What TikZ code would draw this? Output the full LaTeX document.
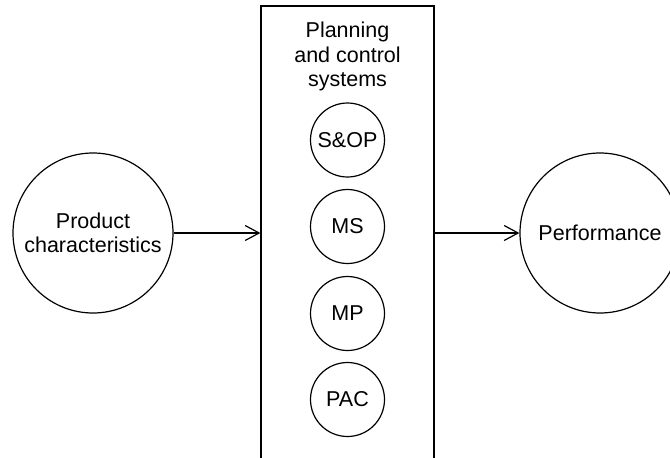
\documentclass[tikz,border=0pt]{standalone}
\usepackage{fontspec}
\setmainfont{Liberation Sans}
\usetikzlibrary{arrows.meta}
\begin{document}
\begin{tikzpicture}[x=1pt,y=-1pt,
  lbl/.style={font=\fontsize{21.5}{24.5}\selectfont, align=center},
  bigcirc/.style={circle, draw, line width=1.2pt, minimum size=160pt, inner sep=0pt, lbl},
  smallcirc/.style={circle, draw, line width=1.2pt, minimum size=74pt, inner sep=0pt, lbl},
  frame/.style={draw, line width=1.2pt, minimum width=173pt, minimum height=480pt, inner sep=0pt},
  arr/.style={line width=1.2pt, -{Straight Barb[length=14pt,width=15pt,line width=1.2pt]}}]
\clip (0,0) rectangle (670,458);
\fill[white] (0,0) rectangle (670,458);
\node[frame] (pcs) at (347.5,246) {};
\node[lbl] (title) at (347.5,56.5) {Planning\\and control\\systems};
\node[smallcirc] (sop) at (347.5,140) {S\&OP};
\node[smallcirc] (ms) at (347.5,226.5) {MS};
\node[smallcirc] (mp) at (347.5,313.5) {MP};
\node[smallcirc] (pac) at (347.5,399.5) {PAC};
\node[bigcirc] (prod) at (93,233) {Product\\characteristics};
\node[bigcirc] (perf) at (600,233) {Performance};
\draw[arr] (prod.east) -- (prod.east -| pcs.west);
\draw[arr] (perf.west -| pcs.east) -- (perf.west);
\end{tikzpicture}
\end{document}
